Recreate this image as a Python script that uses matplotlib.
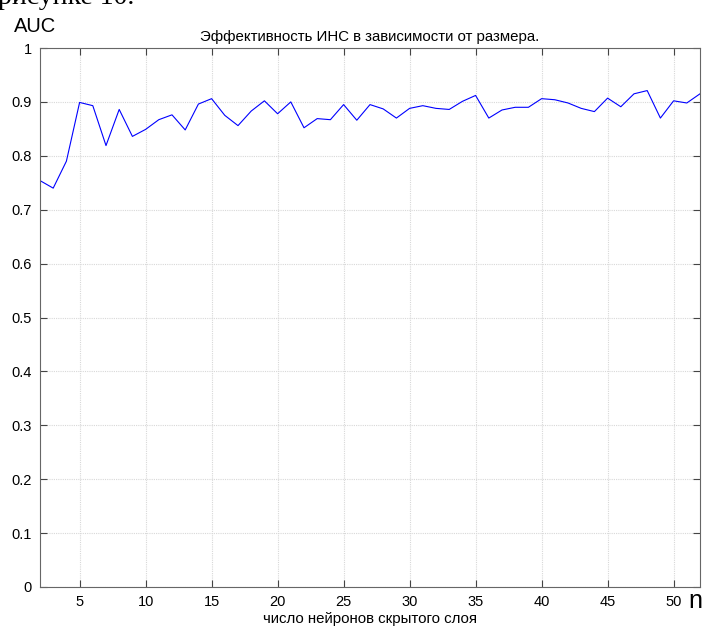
import matplotlib
matplotlib.use("Agg")
import matplotlib.pyplot as plt

n_values = list(range(2, 53))
auc_values = [0.754, 0.740, 0.790, 0.899, 0.893, 0.819, 0.886, 0.836, 0.849, 0.867,
              0.876, 0.848, 0.896, 0.906, 0.875, 0.856, 0.883, 0.902, 0.878, 0.900,
              0.852, 0.869, 0.867, 0.895, 0.866, 0.895, 0.887, 0.870, 0.888, 0.893,
              0.888, 0.886, 0.901, 0.912, 0.870, 0.885, 0.890, 0.890, 0.906, 0.904,
              0.898, 0.888, 0.882, 0.907, 0.891, 0.915, 0.921, 0.870, 0.902, 0.898,
              0.915]
x_ticks = [5, 10, 15, 20, 25, 30, 35, 40, 45, 50]
y_ticks = [0, 0.1, 0.2, 0.3, 0.4, 0.5, 0.6, 0.7, 0.8, 0.9, 1]
y_tick_labels = ["0", "0.1", "0.2", "0.3", "0.4", "0.5", "0.6", "0.7", "0.8", "0.9", "1"]

plt.rcParams['font.family'] = ['Liberation Sans', 'DejaVu Sans']

W, H = 704, 626
fig = plt.figure(figsize=(W / 100, H / 100), dpi=100)
ax = fig.add_axes([40 / W, 1 - 587 / H, 660 / W, 539 / H])

ax.plot(n_values, auc_values, color=(0, 0, 1), linewidth=0.8)
ax.set_xlim(2, 52)
ax.set_ylim(0, 1)
ax.set_xticks(x_ticks)
ax.set_yticks(y_ticks)
ax.set_yticklabels(y_tick_labels)
ax.grid(True, color='#d8d8d8', linestyle=(0, (1, 1)), linewidth=0.8)
ax.tick_params(direction='in', length=5, width=0.8, color='#444444',
               top=True, right=True, labelsize=10.5, pad=6)
for s in ax.spines.values():
    s.set_color('#666666')
    s.set_linewidth(0.8)

ax.set_title("Эффективность ИНС в зависимости от размера.", fontsize=10.8, pad=5)
fig.text(370 / W, 1 - 623 / H, "число нейронов скрытого слоя", fontsize=10.8,
         ha='center', va='baseline')

fig.text(35 / W, 1 - 26 / H, "AUC", fontsize=14.5, ha='center', va='center')
fig.text(695 / W, 1 - 601 / H, "n", fontsize=18, ha='center', va='center')
fig.text(-2 / W, 1 - 4 / H, "рисунке 10.", fontsize=20, ha='left', va='baseline',
         family=['Liberation Serif', 'DejaVu Serif'])

fig.savefig("out.png", dpi=100)
